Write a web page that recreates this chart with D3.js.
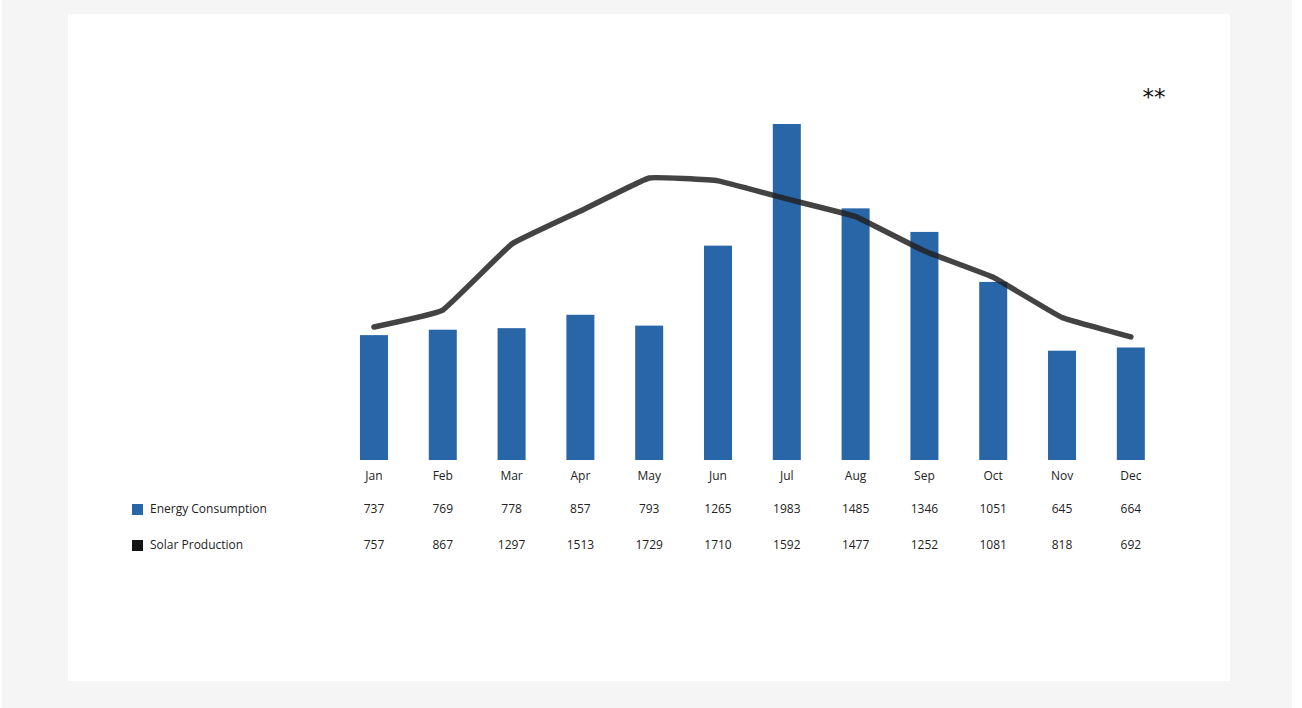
<!DOCTYPE html>
<html>
<head>
  <meta charset="utf-8">
  <style>
    html, body { margin: 0; padding: 0; background: #fff; }
    body { font: 12px "Open Sans", sans-serif; }
    text { fill: #222; }
  </style>
  <script src="https://d3js.org/d3.v7.min.js"></script>
</head>
<body>
  <script>
    // chart data
    var months = ["Jan", "Feb", "Mar", "Apr", "May", "Jun", "Jul", "Aug", "Sep", "Oct", "Nov", "Dec"];
    var consumption = [737, 769, 778, 857, 793, 1265, 1983, 1485, 1346, 1051, 645, 664];
    var solar = [757, 867, 1297, 1513, 1729, 1710, 1592, 1477, 1252, 1081, 818, 692];
    var seriesNames = ["Energy Consumption", "Solar Production"];
    var seriesColors = ["#2866a8", "#141414"];

    var W = 1302, H = 708;

    var svg = d3.select("body").append("svg")
      .attr("width", W)
      .attr("height", H);

    // gray page + white card
    svg.append("rect").attr("x", 2).attr("y", 0).attr("width", 1290).attr("height", H).attr("fill", "#f5f5f5");
    svg.append("rect").attr("x", 68).attr("y", 14).attr("width", 1162).attr("height", 667).attr("fill", "#fff");

    var x = d3.scaleBand()
      .domain(months)
      .range([339.6, 1165.2])
      .paddingInner(0.593)
      .paddingOuter(0.296);

    // bars: 0 sits on the baseline
    var y = d3.scaleLinear()
      .domain([0, 2000])
      .range([460, 121.1]);

    // the line uses its own (secondary) scale
    var y2 = d3.scaleLinear()
      .domain([0, 2000])
      .range([443, 136.4]);

    var cx = function(m) { return x(m) + x.bandwidth() / 2; };

    svg.append("g").selectAll("rect")
      .data(consumption)
      .enter().append("rect")
      .attr("x", function(d, i) { return x(months[i]); })
      .attr("y", function(d) { return y(d); })
      .attr("width", x.bandwidth())
      .attr("height", function(d) { return y(0) - y(d); })
      .attr("fill", seriesColors[0]);

    var line = d3.line()
      .x(function(d, i) { return cx(months[i]); })
      .y(function(d) { return y2(d); })
      .curve(d3.curveCardinal.tension(0.75));

    svg.append("path")
      .datum(solar)
      .attr("d", line)
      .attr("fill", "none")
      .attr("stroke", "#222")
      .attr("stroke-opacity", 0.85)
      .attr("stroke-width", 5.5)
      .attr("stroke-linecap", "round")
      .attr("stroke-linejoin", "round");

    // month labels
    svg.append("g").selectAll("text")
      .data(months)
      .enter().append("text")
      .attr("x", function(d) { return cx(d); })
      .attr("y", 480)
      .attr("text-anchor", "middle")
      .text(function(d) { return d; });

    // data table rows
    var rows = [consumption, solar];
    var rowY = [513, 549];
    rows.forEach(function(vals, r) {
      var g = svg.append("g");
      g.append("rect")
        .attr("x", 132).attr("y", rowY[r] - 9)
        .attr("width", 11).attr("height", 11)
        .attr("fill", seriesColors[r]);
      g.append("text")
        .attr("x", 150).attr("y", rowY[r])
        .text(seriesNames[r]);
      g.selectAll("text.v")
        .data(vals)
        .enter().append("text")
        .attr("class", "v")
        .attr("x", function(d, i) { return cx(months[i]); })
        .attr("y", rowY[r])
        .attr("text-anchor", "middle")
        .text(function(d) { return d; });
    });

    svg.append("text")
      .attr("x", 1154)
      .attr("y", 105)
      .attr("text-anchor", "middle")
      .style("font-family", "'DejaVu Sans', sans-serif")
      .style("font-size", "23px")
      .style("fill", "#111")
      .text("**");
  </script>
</body>
</html>
